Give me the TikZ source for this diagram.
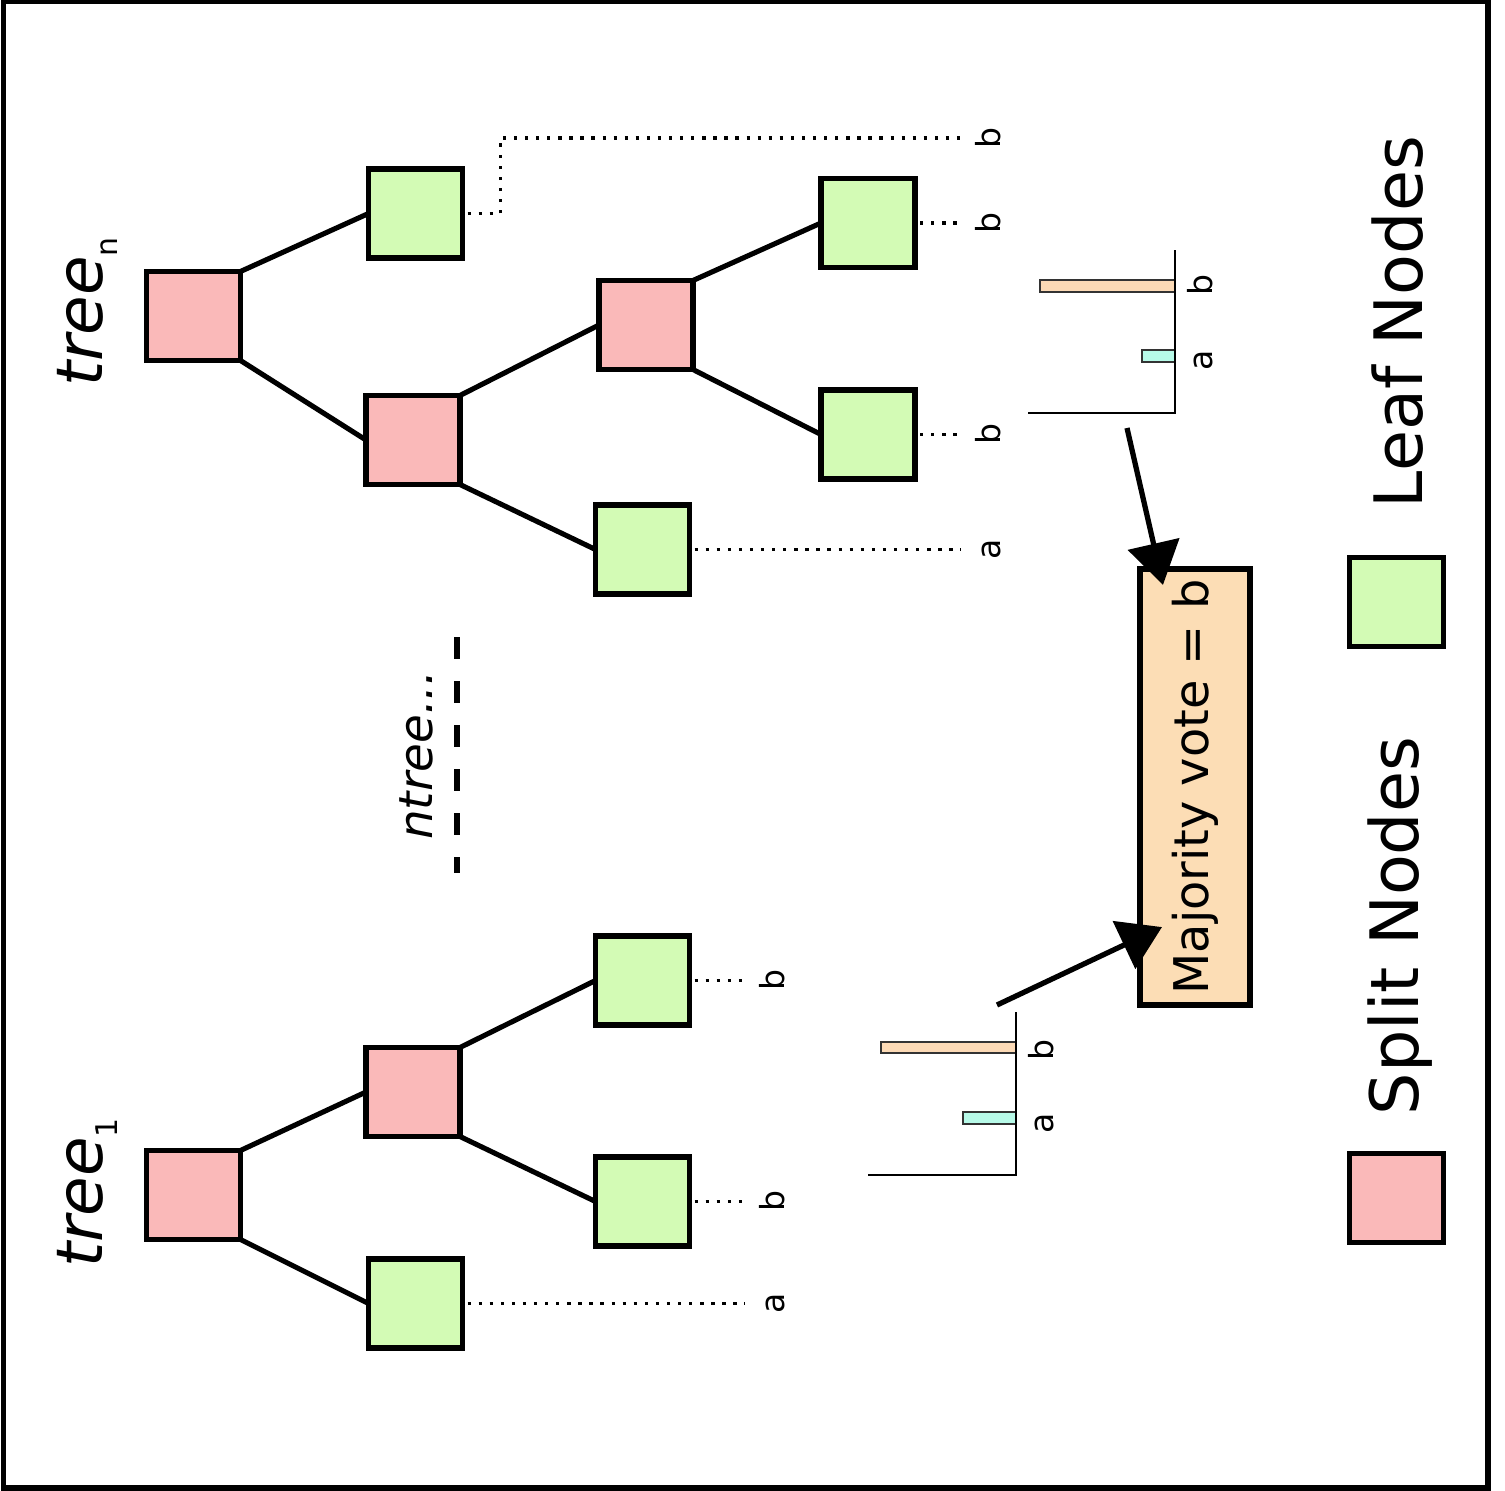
\documentclass[tikz,border=0pt]{standalone}
\usepackage{fontspec}
\setmainfont{DejaVu Sans}
\usetikzlibrary{arrows.meta}
\definecolor{splitfill}{RGB}{250,185,185}
\definecolor{leaffill}{RGB}{211,251,181}
\definecolor{votefill}{RGB}{252,221,181}
\definecolor{barb}{RGB}{252,218,182}
\definecolor{bara}{RGB}{183,250,232}
\begin{document}
\begin{tikzpicture}[x=0.01cm, y=-0.01cm,
  box/.style={draw, line width=1.5pt, minimum width=0.94cm, minimum height=0.89cm, inner sep=0pt, outer sep=0pt},
  split/.style={box, fill=splitfill},
  leaf/.style={box, fill=leaffill},
  edge/.style={line width=1.45pt},
  dots/.style={line width=0.95pt, dash pattern=on 0.95pt off 2.2pt, shorten >=0.12cm, shorten <=0.05cm},
  lbl/.style={rotate=90, anchor=base, inner sep=0pt, text height=0.76em, text depth=0pt, font=\fontsize{9.4}{10}\selectfont},
  treelbl/.style={rotate=90, anchor=base, inner sep=0pt, font=\fontsize{18.3}{20}\selectfont\itshape},
  legend/.style={rotate=90, anchor=base, inner sep=0pt, font=\fontsize{19}{21}\selectfont},
  axis/.style={line width=0.75pt},
  bar/.style={draw=black!80, line width=0.35pt},
  arr/.style={line width=1.5pt, -{Triangle[length=0.42cm, width=0.52cm]}}
]
\useasboundingbox (0,0) rectangle (1505,1491);
% outer frame
\draw[line width=1.7pt] (3.5,1.5) rectangle (1488,1488);

% ---- tree n ----
\node[split] (nr)  at (193.5,316)   {};
\node[leaf]  (nl1) at (415.5,213.5) {};
\node[split] (ns2) at (413,440)     {};
\node[split] (ns3) at (646,325)     {};
\node[leaf]  (nl2) at (642.5,549.5) {};
\node[leaf]  (nl3) at (868,223)     {};
\node[leaf]  (nl4) at (868,434.5)   {};
\draw[edge] (nr.north east)  -- (nl1.west);
\draw[edge] (nr.south east)  -- (ns2.west);
\draw[edge] (ns2.north east) -- (ns3.west);
\draw[edge] (ns2.south east) -- (nl2.west);
\draw[edge] (ns3.north east) -- (nl3.west);
\draw[edge] (ns3.south east) -- (nl4.west);

\node[treelbl] (tn) at (103,312) {tree\raisebox{-4.2pt}{\fontsize{8.5}{9}\selectfont\upshape n}};

\node[lbl] (tb1) at (1000,138)   {b};
\node[lbl] (tb2) at (1000,223)   {b};
\node[lbl] (tb3) at (1000,434.5) {b};
\node[lbl] (ta1) at (1000,549.5) {a};
\draw[dots] (nl1.east) -- ++(38,0) |- (tb1.north);
\draw[dots] (nl3.east) -- (tb2.north);
\draw[dots] (nl4.east) -- (tb3.north);
\draw[dots] (nl2.east) -- (ta1.north);

% ---- tree 1 ----
\node[split] (or)  at (193.5,1195)   {};
\node[leaf]  (ol1) at (415.5,1303.5) {};
\node[split] (os2) at (413,1092)     {};
\node[leaf]  (ol2) at (642.5,980.5)  {};
\node[leaf]  (ol3) at (642.5,1201.5) {};
\draw[edge] (or.north east)  -- (os2.west);
\draw[edge] (or.south east)  -- (ol1.west);
\draw[edge] (os2.north east) -- (ol2.west);
\draw[edge] (os2.south east) -- (ol3.west);

\node[treelbl] (t1) at (103,1193) {tree\raisebox{-4.2pt}{\fontsize{8.5}{9}\selectfont\upshape 1}};

\node[lbl] (ob1) at (784,980.5)  {b};
\node[lbl] (ob2) at (784,1201.5) {b};
\node[lbl] (oa1) at (784,1303.5) {a};
\draw[dots] (ol2.east) -- (ob1.north);
\draw[dots] (ol3.east) -- (ob2.north);
\draw[dots] (ol1.east) -- (oa1.north);

% ---- the trees in between ----
\node[rotate=90, anchor=base, inner sep=0pt, font=\fontsize{13.3}{15}\selectfont\itshape] (nt) at (432,755) {ntree...};
\coordinate (dA) at (457,637);
\coordinate (dB) at (457,873);
\draw[line width=1.9pt, dash pattern=on 6.26pt off 6.26pt] (dA) -- (dB);

% ---- vote histograms ----
\draw[bar, fill=barb] (1040,280) rectangle (1175,292);
\draw[bar, fill=bara] (1142,350) rectangle (1175,362);
\draw[axis] (1028,413) -- (1175,413) -- (1175,250);
\node[lbl] (hb1) at (1212,285) {b};
\node[lbl] (ha1) at (1212,360) {a};

\draw[bar, fill=barb] (881,1042) rectangle (1016,1053);
\draw[bar, fill=bara] (963,1112) rectangle (1016,1124);
\draw[axis] (868,1175) -- (1016,1175) -- (1016,1012);
\node[lbl] (hb2) at (1053,1050) {b};
\node[lbl] (ha2) at (1053,1123) {a};

% ---- majority vote ----
\node[draw, line width=1.5pt, fill=votefill, rotate=90, minimum width=4.36cm, minimum height=1.10cm,
      inner sep=0pt, font=\fontsize{13.6}{15}\selectfont] (vote) at (1195,787) {Majority vote = b};
\coordinate (v1) at (1127,428);
\coordinate (v2) at (997,1005);
\draw[arr] (v1) -- ([xshift=-0.32cm, yshift=2.02cm]vote.center);
\draw[arr] (v2) -- ([xshift=-0.33cm, yshift=-1.40cm]vote.center);

% ---- legend ----
\node[split] (ls) at (1396.5,1198) {};
\node[leaf]  (ll) at (1396.5,602)  {};
\node[legend] (lst) at (1418,926) {Split Nodes};
\node[legend] (llt) at (1422,322) {Leaf Nodes};
\end{tikzpicture}
\end{document}
